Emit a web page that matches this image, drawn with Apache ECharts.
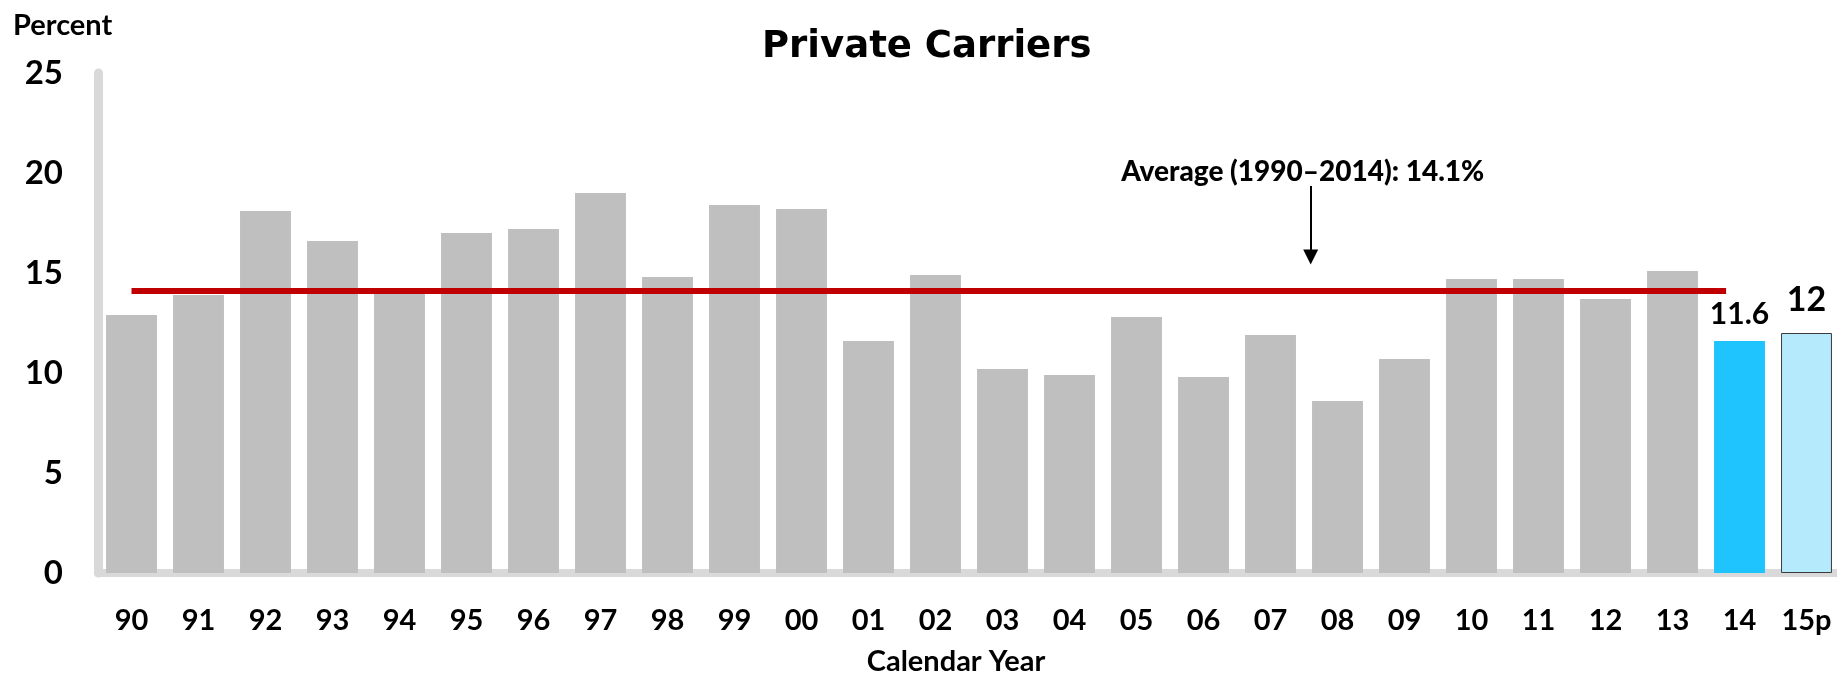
<!DOCTYPE html>
<html>
<head>
<meta charset="utf-8">
<script src="https://cdn.jsdelivr.net/npm/echarts@6/dist/echarts.min.js"></script>
<style>
  html, body { margin: 0; padding: 0; background: #fff; }
  #chart { width: 1837px; height: 673px; }
</style>
</head>
<body>
<div id="chart"></div>
<script>
var years = ['90', '91', '92', '93', '94', '95', '96', '97', '98', '99', '00', '01', '02',
  '03', '04', '05', '06', '07', '08', '09', '10', '11', '12', '13', '14', '15p'];
var returns = [12.9, 13.9, 18.1, 16.6, 14.1, 17.0, 17.2, 19.0, 14.8, 18.4, 18.2, 11.6, 14.9,
  10.2, 9.9, 12.8, 9.8, 11.9, 8.6, 10.7, 14.7, 14.7, 13.7, 15.1, 11.6, 12];
var yTicks = [0, 5, 10, 15, 20, 25];
var avgValue = 14.1;
var avgSpan = [0, 23.8];          // average line runs from 90 to just past 14
var arrowX = 17.6;                // between 07 and 08
var arrowY = [19.35, 15.8];
var avgText = 'Average (1990–2014): 14.1%';

var FONT = 'Lato';

var barData = [];
for (var i = 0; i < returns.length; i++) {
  var item = { value: returns[i] };
  if (years[i] == '14') {
    item.itemStyle = { color: '#1fc4fe' };
    item.label = { show: true, fontSize: 30 };
  } else if (years[i] == '15p') {
    item.itemStyle = { color: '#b4eafc', borderColor: '#3a3a3a', borderWidth: 1 };
    item.label = { show: true, fontSize: 34, distance: 16 };
  }
  barData.push(item);
}

var chart = echarts.init(document.getElementById('chart'));

var option = {
  backgroundColor: '#fff',
  animation: false,
  title: [{
    text: 'Private Carriers',
    left: 757,
    top: 24,
    textStyle: { fontFamily: 'DejaVu Sans', fontWeight: 'bold', fontSize: 37, color: '#000' }
  }, {
    text: 'Percent',
    left: 8,
    top: 6,
    textStyle: { fontFamily: FONT, fontWeight: 'bold', fontSize: 29, color: '#000' }
  }],
  grid: { left: 98, top: 73, width: 1742, height: 500, containLabel: false, outerBoundsMode: 'none' },
  xAxis: [{
    type: 'category',
    data: years,
    offset: 4,
    axisLine: { lineStyle: { color: '#d9d9d9', width: 8 } },
    axisTick: { show: false },
    axisLabel: { interval: 0, margin: 29, fontFamily: FONT, fontWeight: 'bold', fontSize: 29, color: '#000' },
    name: 'Calendar Year',
    nameLocation: 'middle',
    nameGap: 70,
    nameTextStyle: { fontFamily: FONT, fontWeight: 'bold', fontSize: 29, color: '#000', padding: [0, 26, 0, 0] }
  }, {
    type: 'value',
    min: -0.5,
    max: years.length - 0.5,
    show: false
  }],
  yAxis: {
    type: 'value',
    min: yTicks[0],
    max: yTicks[yTicks.length - 1],
    interval: yTicks[1] - yTicks[0],
    axisLine: { show: true, onZero: false, lineStyle: { color: '#d9d9d9', width: 9 } },
    axisTick: { show: false },
    splitLine: { show: false },
    axisLabel: { margin: 35, fontFamily: FONT, fontWeight: 'bold', fontSize: 33, color: '#000' }
  },
  series: [{
    type: 'bar',
    data: barData,
    barCategoryGap: '24%',
    itemStyle: { color: '#bfbfbf' },
    label: {
      show: false,
      position: 'top',
      distance: 12,
      fontFamily: FONT,
      fontWeight: 'bold',
      color: '#000'
    }
  }, {
    type: 'line',
    xAxisIndex: 1,
    data: [[avgSpan[0], avgValue], [avgSpan[1], avgValue]],
    symbol: 'none',
    clip: false,
    lineStyle: { color: '#c00000', width: 6 },
    z: 5,
    markLine: {
      silent: true,
      symbol: ['none', 'triangle'],
      symbolSize: [15, 15],
      lineStyle: { color: '#000', width: 2, type: 'solid' },
      label: {
        show: true,
        position: 'start',
        distance: 0,
        padding: [0, 16, 0, 0],
        formatter: avgText,
        fontFamily: FONT,
        fontWeight: 900,
        fontSize: 28,
        color: '#000'
      },
      data: [[{ coord: [arrowX, arrowY[0]] }, { coord: [arrowX, arrowY[1]] }]]
    }
  }]
};

chart.setOption(option);
</script>
</body>
</html>
